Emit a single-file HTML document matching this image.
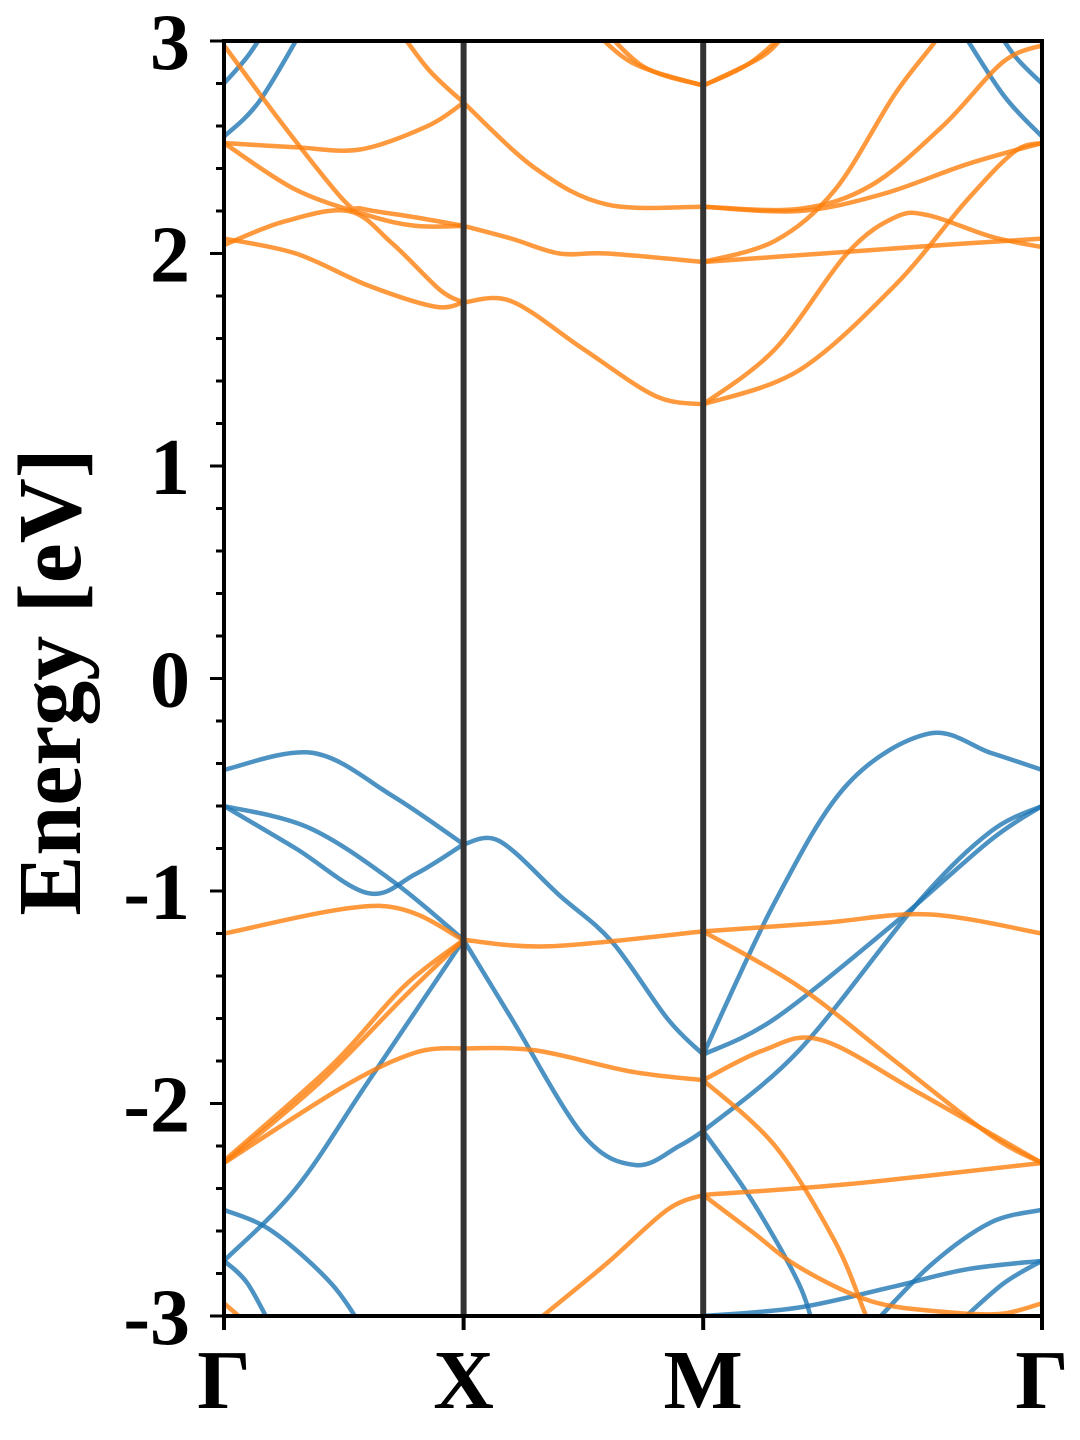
<!DOCTYPE html>
<html><head><meta charset="utf-8"><style>
html,body{margin:0;padding:0;background:#fff;}
svg{display:block;font-family:"Liberation Serif",serif;font-weight:bold;}
</style></head><body>
<svg id="chart" width="1080" height="1440" viewBox="0 0 1080 1440" xmlns="http://www.w3.org/2000/svg">
<defs><clipPath id="clip"><rect x="224" y="41" width="818" height="1275"/></clipPath></defs>
<g id="bands" clip-path="url(#clip)"></g>
<g id="axes"></g>
<text x="0" y="0" transform="translate(80,682) rotate(-90)" text-anchor="middle" font-size="90">Energy [eV]</text>
</svg>
<script>
const kTicks = [0, 1, 2, 3.414];
const kLabels = ["Γ", "X", "M", "Γ"];
const yTicks = [-3, -2, -1, 0, 1, 2, 3];
const yTickLabels = ["-3", "-2", "-1", "0", "1", "2", "3"];
const blueBands = [
 [[0,-0.43],[0.37,-0.35],[0.7,-0.55],[1,-0.78]],
 [[1,-0.78],[1.15,-0.765],[1.4,-1.02],[1.62,-1.24],[1.85,-1.6],[2,-1.77]],
 [[2,-1.77],[2.3,-1.05],[2.6,-0.5],[2.94,-0.26],[3.2,-0.35],[3.414,-0.43]],
 [[0,-0.60],[0.3,-0.8],[0.6,-1.01],[0.8,-0.92],[1,-0.78]],
 [[0,-0.60],[0.35,-0.7],[0.7,-0.95],[1,-1.23]],
 [[1,-1.23],[1.2,-1.6],[1.5,-2.15],[1.72,-2.29],[1.9,-2.2],[2,-2.13]],
 [[2,-2.13],[2.4,-1.75],[2.9,-1.05],[3.2,-0.72],[3.414,-0.60]],
 [[2,-1.77],[2.3,-1.6],[2.8,-1.15],[3.2,-0.76],[3.414,-0.60]],
 [[0,-2.74],[0.3,-2.4],[0.6,-1.9],[1,-1.23]],
 [[0,-2.50],[0.2,-2.6],[0.45,-2.85],[0.6,-3.1]],
 [[0,-2.74],[0.1,-2.85],[0.22,-3.1]],
 [[2,-2.13],[2.2,-2.45],[2.4,-2.85],[2.47,-3.1]],
 [[2,-3.0],[2.4,-2.96],[2.8,-2.86],[3.1,-2.78],[3.414,-2.74]],
 [[2.7,-3.05],[2.95,-2.76],[3.2,-2.56],[3.414,-2.50]],
 [[3.05,-3.05],[3.25,-2.85],[3.414,-2.74]],
 [[0,2.80],[0.1,2.93],[0.2,3.1]],
 [[0,2.55],[0.15,2.72],[0.35,3.1]],
 [[3.414,2.80],[3.3,2.93],[3.2,3.1]],
 [[3.414,2.55],[3.25,2.75],[3.05,3.1]]
];
const orangeBands = [
 [[0,2.07],[0.3,2.0],[0.6,1.85],[0.88,1.75],[1,1.77]],
 [[0,2.04],[0.25,2.15],[0.52,2.2],[0.7,2.05],[0.9,1.83],[1,1.77]],
 [[0,2.98],[0.25,2.6],[0.5,2.25],[0.58,2.21],[0.8,2.17],[1,2.13]],
 [[0,2.52],[0.3,2.3],[0.6,2.18],[0.8,2.13],[1,2.13]],
 [[0,2.52],[0.3,2.5],[0.57,2.49],[0.85,2.6],[1,2.71]],
 [[0.7,3.1],[0.85,2.87],[1,2.71]],
 [[1,2.71],[1.3,2.4],[1.6,2.23],[2,2.22]],
 [[1,2.13],[1.2,2.07],[1.4,2.0],[1.6,2.0],[2,1.96]],
 [[1,1.77],[1.2,1.775],[1.5,1.55],[1.8,1.33],[2,1.29]],
 [[1.5,3.1],[1.7,2.9],[2,2.79]],
 [[1.55,3.1],[1.75,2.88],[2,2.79]],
 [[2,2.79],[2.2,2.9],[2.4,3.1]],
 [[2,2.79],[2.25,2.93],[2.35,3.05]],
 [[2,2.22],[2.4,2.2],[2.75,2.28],[3.1,2.42],[3.414,2.52]],
 [[2,2.22],[2.4,2.21],[2.7,2.32],[3.0,2.6],[3.25,2.9],[3.414,2.98]],
 [[2,1.96],[2.3,2.06],[2.55,2.3],[2.8,2.75],[2.97,3.0],[3.02,3.1]],
 [[2,1.96],[2.5,2.0],[3.0,2.04],[3.414,2.07]],
 [[2,1.29],[2.3,1.55],[2.6,2.0],[2.8,2.17],[2.94,2.18],[3.2,2.08],[3.414,2.03]],
 [[2,1.29],[2.4,1.45],[2.8,1.85],[3.1,2.25],[3.3,2.48],[3.414,2.52]],
 [[0,-1.20],[0.65,-1.07],[1,-1.23]],
 [[1,-1.23],[1.36,-1.26],[2,-1.19]],
 [[2,-1.19],[2.5,-1.15],[2.94,-1.11],[3.414,-1.20]],
 [[2,-1.19],[2.4,-1.45],[2.8,-1.8],[3.2,-2.15],[3.414,-2.28]],
 [[0,-2.28],[0.4,-1.9],[0.75,-1.5],[1,-1.23]],
 [[0,-2.27],[0.45,-1.82],[0.75,-1.45],[1,-1.23]],
 [[0,-2.28],[0.5,-1.92],[0.8,-1.76],[1,-1.74]],
 [[1,-1.74],[1.3,-1.75],[1.7,-1.85],[2,-1.89]],
 [[2,-1.89],[2.25,-1.75],[2.49,-1.70],[2.9,-1.95],[3.414,-2.28]],
 [[2,-1.89],[2.3,-2.2],[2.55,-2.65],[2.68,-3.0],[2.72,-3.1]],
 [[2,-2.43],[2.6,-2.38],[3.414,-2.28]],
 [[2,-2.43],[2.2,-2.6],[2.4,-2.77],[2.7,-2.93],[3.0,-2.98],[3.24,-2.99],[3.414,-2.94]],
 [[1.33,-3.0],[1.6,-2.75],[1.85,-2.5],[2,-2.43]],
 [[0,-2.94],[0.1,-3.05],[0.15,-3.2]]
];
const X0=224, X1=1042, Y0=41, Y1=1316, KMAX=3.414, EMIN=-3, EMAX=3;
function xs(k){return X0+(k/KMAX)*(X1-X0);}
function ys(e){return Y1-(e-EMIN)/(EMAX-EMIN)*(Y1-Y0);}
const NS="http://www.w3.org/2000/svg";
function pathFor(pts){
  const p=pts.map(d=>[xs(d[0]),ys(d[1])]);
  let s="M"+p[0][0].toFixed(1)+","+p[0][1].toFixed(1);
  for(let i=0;i<p.length-1;i++){
    const a=p[i-1]||p[i], b=p[i], c=p[i+1], d=p[i+2]||c;
    const c1=[b[0]+(c[0]-a[0])/6, b[1]+(c[1]-a[1])/6];
    const c2=[c[0]-(d[0]-b[0])/6, c[1]-(d[1]-b[1])/6];
    s+=" C"+c1[0].toFixed(1)+","+c1[1].toFixed(1)+" "+c2[0].toFixed(1)+","+c2[1].toFixed(1)+" "+c[0].toFixed(1)+","+c[1].toFixed(1);
  }
  return s;
}
const g=document.getElementById("bands");
blueBands.forEach((b,i)=>{
  const el=document.createElementNS(NS,"path");
  
  
  el.setAttribute("d",pathFor(b));
  el.setAttribute("fill","none");el.setAttribute("stroke","#1f77b4");
  el.setAttribute("stroke-opacity","0.8");el.setAttribute("stroke-width","4.5");
  g.appendChild(el);
});
orangeBands.forEach((b,i)=>{
  const el=document.createElementNS(NS,"path");
  
  
  el.setAttribute("d",pathFor(b));
  el.setAttribute("fill","none");el.setAttribute("stroke","#ff7f0e");
  el.setAttribute("stroke-opacity","0.8");el.setAttribute("stroke-width","4.5");
  g.appendChild(el);
});
const ax=document.getElementById("axes");
kTicks.forEach((k,i)=>{
  if(i>0&&i<kTicks.length-1){
    const l=document.createElementNS(NS,"line");
    
    
    l.setAttribute("x1",xs(k));l.setAttribute("x2",xs(k));l.setAttribute("y1",Y0);l.setAttribute("y2",Y1);
    l.setAttribute("stroke","#333");l.setAttribute("stroke-width","6");
    ax.appendChild(l);
  }
  const t=document.createElementNS(NS,"line");
  
  
  t.setAttribute("x1",xs(k));t.setAttribute("x2",xs(k));t.setAttribute("y1",Y1);t.setAttribute("y2",Y1+14);
  t.setAttribute("stroke","#000");t.setAttribute("stroke-width","4");ax.appendChild(t);
  const tx=document.createElementNS(NS,"text");
  
  
  tx.setAttribute("x",xs(k));tx.setAttribute("y",1408);tx.setAttribute("text-anchor","middle");
  tx.setAttribute("font-size","84");tx.textContent=kLabels[i];ax.appendChild(tx);
});
for(let e=-3;e<=3.0001;e+=0.2){
  const major=Math.abs(e-Math.round(e))<1e-6;
  const t=document.createElementNS(NS,"line");
  
  
  t.setAttribute("x1",X0-(major?14:8));t.setAttribute("x2",X0);t.setAttribute("y1",ys(e));t.setAttribute("y2",ys(e));
  t.setAttribute("stroke","#000");t.setAttribute("stroke-width","3");ax.appendChild(t);
}
yTicks.forEach((v,i)=>{
  const tx=document.createElementNS(NS,"text");
  
  
  tx.setAttribute("x",190);tx.setAttribute("y",ys(v)+28);tx.setAttribute("text-anchor","end");
  tx.setAttribute("font-size","80");tx.textContent=yTickLabels[i];ax.appendChild(tx);
});
const fr=document.createElementNS(NS,"rect");


fr.setAttribute("x",X0);fr.setAttribute("y",Y0);fr.setAttribute("width",X1-X0);fr.setAttribute("height",Y1-Y0);
fr.setAttribute("fill","none");fr.setAttribute("stroke","#000");fr.setAttribute("stroke-width","4");
ax.appendChild(fr);
</script>
</body></html>
